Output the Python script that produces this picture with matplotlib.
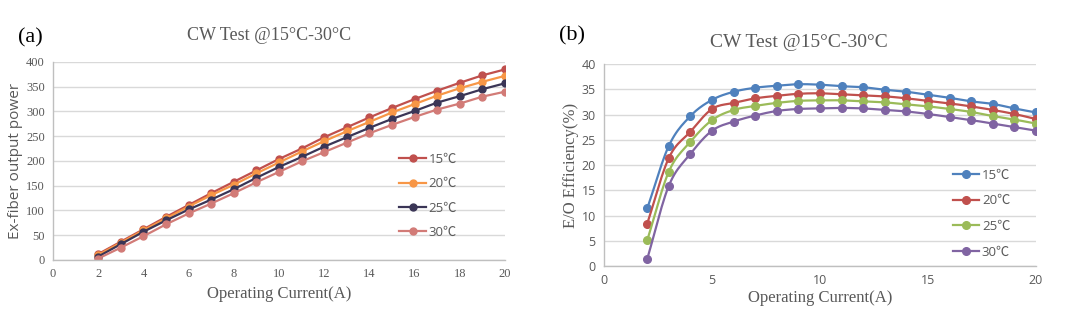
import numpy as np
import matplotlib.pyplot as plt

# measured data, current 2..20 A
current = list(range(2, 21))
temps = ["15℃", "20℃", "25℃", "30℃"]

power_15 = [12, 37, 62, 87, 111, 135, 158, 181, 204, 225, 248, 268, 288, 307, 325, 342, 358, 373, 385]
power_20 = [10, 35, 60, 84, 108, 131, 152, 175, 197, 219, 240, 260, 279, 298, 315, 332, 347, 360, 372]
power_25 = [7, 32, 57, 80, 102, 122, 143, 166, 188, 208, 229, 248, 267, 285, 301, 318, 331, 345, 357]
power_30 = [3, 25, 48, 72, 94, 114, 135, 157, 178, 199, 218, 237, 256, 273, 289, 304, 316, 330, 340]

eff_15 = [11.4, 23.8, 29.7, 32.9, 34.5, 35.3, 35.7, 36.0, 35.9, 35.6, 35.4, 34.9, 34.5, 33.9, 33.3, 32.6, 32.1, 31.2, 30.4]
eff_20 = [8.4, 21.4, 26.6, 31.1, 32.3, 33.2, 33.7, 34.1, 34.2, 34.0, 33.8, 33.6, 33.2, 32.7, 32.2, 31.6, 30.9, 30.1, 29.1]
eff_25 = [5.1, 18.7, 24.6, 28.9, 30.9, 31.7, 32.3, 32.7, 32.8, 32.8, 32.6, 32.4, 32.0, 31.6, 31.1, 30.5, 29.7, 29.0, 28.2]
eff_30 = [1.4, 15.9, 22.2, 26.8, 28.6, 29.8, 30.7, 31.1, 31.2, 31.3, 31.2, 30.9, 30.6, 30.1, 29.5, 28.9, 28.2, 27.5, 26.8]

colors_a = ["#C0504D", "#F79646", "#3A3556", "#D27B77"]
colors_b = ["#4F81BD", "#C0504D", "#9BBB59", "#8064A2"]

SERIF = "Liberation Serif"
SANS = "Open Sans"
LEGEND_FONT = [SANS, "Noto Sans CJK SC", "DejaVu Sans"]
GRAY = "#595959"


def smooth(x, y, n=12):
    """Catmull-Rom curve through the points (Excel style smoothed line)"""
    x = np.asarray(x, float)
    y = np.asarray(y, float)
    px = np.concatenate([[2 * x[0] - x[1]], x, [2 * x[-1] - x[-2]]])
    py = np.concatenate([[2 * y[0] - y[1]], y, [2 * y[-1] - y[-2]]])
    xs, ys = [], []
    t = np.linspace(0, 1, n, endpoint=False)
    for i in range(1, len(px) - 2):
        for p, out in ((px, xs), (py, ys)):
            p0, p1, p2, p3 = p[i - 1], p[i], p[i + 1], p[i + 2]
            out.extend(0.5 * (2 * p1 + (-p0 + p2) * t
                              + (2 * p0 - 5 * p1 + 4 * p2 - p3) * t ** 2
                              + (-p0 + 3 * p1 - 3 * p2 + p3) * t ** 3))
    xs.append(x[-1])
    ys.append(y[-1])
    return xs, ys


def style_axes(ax, tick_font):
    ax.grid(True, axis="y", color="#D9D9D9", linewidth=1)
    ax.set_axisbelow(True)
    for side in ("top", "right"):
        ax.spines[side].set_visible(False)
    for side in ("left", "bottom"):
        ax.spines[side].set_color("#BFBFBF")
        ax.spines[side].set_linewidth(1)
    ax.tick_params(length=0, labelcolor=GRAY, labelsize=9, pad=6)
    for lab in ax.get_xticklabels() + ax.get_yticklabels():
        lab.set_family(tick_font)


fig = plt.figure(figsize=(10.8, 3.32), dpi=100)

# (a) output power
ax1 = fig.add_axes([0.0491, 0.2169, 0.4185, 0.5964])
for vals, c, lab in zip([power_15, power_20, power_25, power_30], colors_a, temps):
    ax1.plot(current, vals, color=c, lw=1.6, marker="o", ms=5, label=lab)
ax1.set_xlim(0, 20)
ax1.set_ylim(0, 400)
ax1.set_xticks(range(0, 21, 2))
ax1.set_yticks(range(0, 401, 50))
style_axes(ax1, SERIF)
ax1.set_xlabel("Operating Current(A)", family=SERIF, fontsize=12, color=GRAY, labelpad=4)
ax1.set_ylabel("Ex-fiber output power", family=SANS, fontsize=11, color=GRAY, labelpad=2)
ax1.set_title("CW Test @15°C-30°C", family=SERIF, fontsize=13, color=GRAY, pad=16, x=0.478)
leg1 = ax1.legend(loc="upper left", bbox_to_anchor=(0.74, 0.60), frameon=False,
                  handlelength=2.0, labelspacing=0.85, handletextpad=0.2,
                  prop={"family": LEGEND_FONT, "size": 9.5})
for t in leg1.get_texts():
    t.set_color(GRAY)

# (b) E/O efficiency
ax2 = fig.add_axes([0.5593, 0.1988, 0.4, 0.6084])
for vals, c, lab in zip([eff_15, eff_20, eff_25, eff_30], colors_b, temps):
    sx, sy = smooth(current, vals)
    ax2.plot(sx, sy, color=c, lw=1.6)
    ax2.plot(current, vals, color=c, lw=0, marker="o", ms=5.5)
    ax2.plot([], [], color=c, lw=1.6, marker="o", ms=5.5, label=lab)
ax2.set_xlim(0, 20)
ax2.set_ylim(0, 40)
ax2.set_xticks(range(0, 21, 5))
ax2.set_yticks(range(0, 41, 5))
style_axes(ax2, SANS)
ax2.set_xlabel("Operating Current(A)", family=SERIF, fontsize=12, color=GRAY, labelpad=2)
ax2.set_ylabel("E/O Efficiency(%)", family=SERIF, fontsize=12, color=GRAY, labelpad=2)
ax2.set_title("CW Test @15°C-30°C", family=SERIF, fontsize=14, color=GRAY, pad=12, x=0.45)
leg2 = ax2.legend(loc="upper left", bbox_to_anchor=(0.78, 0.54), frameon=False,
                  handlelength=2.0, labelspacing=0.95, handletextpad=0.2,
                  prop={"family": LEGEND_FONT, "size": 9.5})
for t in leg2.get_texts():
    t.set_color(GRAY)

fig.text(0.0167, 0.885, "(a)", family=SERIF, fontsize=16, va="center")
fig.text(0.518, 0.893, "(b)", family=SERIF, fontsize=16, va="center")

fig.savefig("out.png", dpi=100, facecolor="white")
